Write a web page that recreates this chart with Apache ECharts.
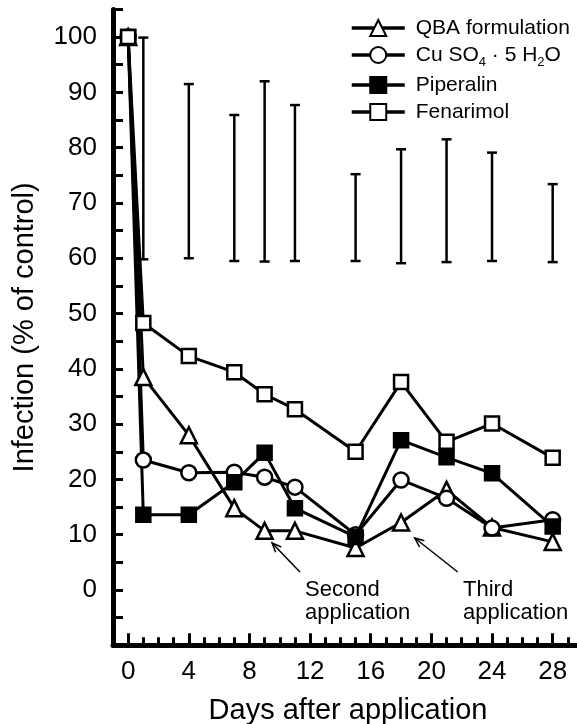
<!DOCTYPE html>
<html>
<head>
<meta charset="utf-8">
<script src="https://cdn.jsdelivr.net/npm/echarts@6/dist/echarts.min.js"></script>
<style>html,body{margin:0;padding:0;background:#fff;}#c{width:577px;height:724px;}</style>
</head>
<body>
<div id="c"></div>
<script>
// ---- data ----
const days = [0, 1, 4, 7, 9, 11, 15, 18, 21, 24, 28];
const qba = [100, 38.5, 28, 14.8, 10.7, 10.7, 7.6, 12.2, 18.1, 11.3, 8.7];
const cuso4 = [100, 23.5, 21.2, 21.3, 20.4, 18.6, 10, 19.9, 16.6, 11.2, 12.7];
const piperalin = [100, 13.6, 13.6, 19.5, 24.8, 14.8, 9.6, 27.1, 24.0, 21.1, 11.5];
const fenarimol = [100, 48.3, 42.3, 39.4, 35.4, 32.7, 25, 37.6, 26.8, 30.1, 23.9];
const errDays = [1, 4, 7, 9, 11, 15, 18, 21, 24, 28];
const errLow = [59.8, 60, 59.5, 59.4, 59.5, 59.5, 59.1, 59.3, 59.5, 59.3];
const errHigh = [99.9, 91.5, 85.9, 92.0, 87.7, 75.2, 79.7, 81.5, 79.1, 73.4];
const seriesNames = ['QBA formulation', 'Cu SO4 · 5 H2O', 'Piperalin', 'Fenarimol'];
const xTickLabels = [0, 4, 8, 12, 16, 20, 24, 28];
const yTickLabels = [0, 10, 20, 30, 40, 50, 60, 70, 80, 90, 100];
const annoText = ['Second\napplication', 'Third\napplication'];
const annoArrowTail = [[11.33, 3.25], [21.74, 3.25]];
const annoArrowHead = [[9.49, 8.5], [18.9, 9.4]];

const FONT = '"Liberation Sans", Arial, Helvetica, sans-serif';
const pair = arr => days.map((d, i) => [d, arr[i]]);

const chart = echarts.init(document.getElementById('c'), null, {renderer: 'canvas'});

const catData = [];
for (let d = -1; d <= 30; d++) catData.push(String(d));

function lineSeries(name, data, symbol, filled, size) {
  return {
    name: name, type: 'line', data: pair(data), symbol: symbol, symbolSize: size,
    showAllSymbol: true,
    lineStyle: {color: '#000', width: 3},
    itemStyle: {color: filled ? '#000' : '#fff', borderColor: '#000', borderWidth: 2.5},
    emphasis: {disabled: true}, z: 3
  };
}

const option = {
  animation: false,
  backgroundColor: '#fff',
  textStyle: {fontFamily: FONT, color: '#000'},
  grid: {left: 113, top: 9.4, right: -6, bottom: 78.7, containLabel: false, outerBoundsMode: 'none'},
  legend: {
    orient: 'vertical', left: 345, top: 12, itemWidth: 53, itemHeight: 20, itemGap: 5,
    data: seriesNames,
    lineStyle: {width: 3.5, color: '#000'},
    textStyle: {fontSize: 21, color: '#000', fontFamily: FONT, lineHeight: 22, padding: [0, 0, 0, 6],
      rich: {
        a: {fontSize: 21, fontFamily: FONT, color: '#000', lineHeight: 22},
        s: {fontSize: 13, fontFamily: FONT, color: '#000', lineHeight: 13, verticalAlign: 'bottom', padding: [0, 0, -3, 0]}
      }
    },
    formatter: function (n) {
      if (n === seriesNames[1]) return '{a|Cu SO}{s|4}{a| · 5 H}{s|2}{a|O}';
      return n;
    }
  },
  xAxis: [{
    type: 'value', min: -1, max: 30, interval: 1,
    name: 'Days after application', nameLocation: 'middle', nameGap: 51,
    nameTextStyle: {fontSize: 29, fontFamily: FONT, color: '#000'},
    axisLine: {show: true, onZero: false, lineStyle: {color: '#000', width: 5}},
    axisTick: {show: true, inside: true, length: 8, lineStyle: {color: '#000', width: 3}},
    axisLabel: {fontSize: 26, color: '#000', fontFamily: FONT, margin: 14,
      showMinLabel: true, showMaxLabel: true,
      formatter: v => xTickLabels.indexOf(v) >= 0 ? String(v) : ''},
    splitLine: {show: false}
  }, {
    type: 'category', data: catData, boundaryGap: false, position: 'bottom',
    axisLine: {show: false, onZero: false},
    axisTick: {show: true, inside: true, length: 12, lineStyle: {color: '#000', width: 3},
      interval: (idx, val) => xTickLabels.indexOf(+val) >= 0},
    axisLabel: {show: false}, splitLine: {show: false}
  }],
  yAxis: {
    type: 'value', min: -10, max: 105, interval: 5,
    name: 'Infection (% of control)', nameLocation: 'middle', nameGap: 74,
    nameTextStyle: {fontSize: 29, fontFamily: FONT, color: '#000'},
    axisLine: {show: true, onZero: false, lineStyle: {color: '#000', width: 5}},
    axisTick: {show: true, inside: true, length: 10, lineStyle: {color: '#000', width: 3}},
    axisLabel: {fontSize: 26, color: '#000', fontFamily: FONT, margin: 16,
      formatter: v => yTickLabels.indexOf(v) >= 0 ? String(v) : ''},
    splitLine: {show: false}
  },
  series: [
    {
      name: 'errorbars', type: 'custom', xAxisIndex: 0, yAxisIndex: 0,
      data: errDays.map((d, i) => [d, errLow[i], errHigh[i]]),
      renderItem: function (params, api) {
        const x = api.value(0);
        const p1 = api.coord([x, api.value(2)]);
        const p2 = api.coord([x, api.value(1)]);
        const w = 5;
        const st = {stroke: '#000', lineWidth: 2.5};
        return {type: 'group', children: [
          {type: 'line', shape: {x1: p1[0], y1: p1[1], x2: p2[0], y2: p2[1]}, style: st},
          {type: 'line', shape: {x1: p1[0] - w, y1: p1[1], x2: p1[0] + w, y2: p1[1]}, style: st},
          {type: 'line', shape: {x1: p2[0] - w, y1: p2[1], x2: p2[0] + w, y2: p2[1]}, style: st}
        ]};
      }, z: 2, silent: true
    },
    {
      name: 'arrows', type: 'custom', xAxisIndex: 0, yAxisIndex: 0,
      data: annoArrowTail.map((t, i) => [t[0], t[1], annoArrowHead[i][0], annoArrowHead[i][1]]),
      renderItem: function (params, api) {
        const t = api.coord([api.value(0), api.value(1)]);
        const h = api.coord([api.value(2), api.value(3)]);
        const ang = Math.atan2(t[1] - h[1], t[0] - h[0]);
        const L = 10, a = 0.4;
        const st = {stroke: '#000', lineWidth: 1.5};
        return {type: 'group', children: [
          {type: 'line', shape: {x1: t[0], y1: t[1], x2: h[0], y2: h[1]}, style: st},
          {type: 'polyline', shape: {points: [
            [h[0] + L * Math.cos(ang + a), h[1] + L * Math.sin(ang + a)],
            [h[0], h[1]],
            [h[0] + L * Math.cos(ang - a), h[1] + L * Math.sin(ang - a)]]}, style: Object.assign({fill: null}, st)}
        ]};
      }, z: 2, silent: true
    },
    lineSeries(seriesNames[0], qba, 'triangle', false, 16),
    lineSeries(seriesNames[1], cuso4, 'circle', false, 15),
    lineSeries(seriesNames[2], piperalin, 'rect', true, 14),
    lineSeries(seriesNames[3], fenarimol, 'rect', false, 14)
  ],
  graphic: [
    {type: 'text', left: 305, top: 578, style: {text: annoText[0], font: '22px ' + FONT, fill: '#000', lineHeight: 23}},
    {type: 'text', left: 463, top: 578, style: {text: annoText[1], font: '22px ' + FONT, fill: '#000', lineHeight: 23}}
  ]
};
chart.setOption(option);
</script>
</body>
</html>
